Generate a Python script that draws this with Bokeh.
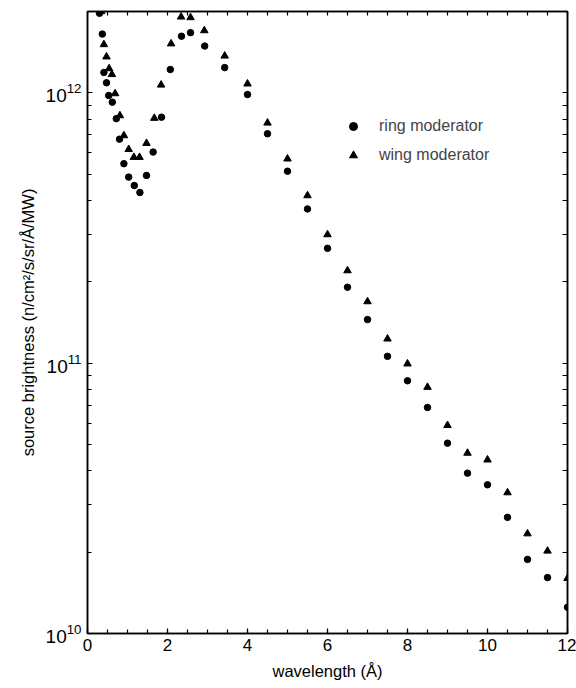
from bokeh.plotting import figure
from bokeh.models import (LogAxis, LinearAxis, FixedTicker, Range1d, Legend,
                          LegendItem, LogTickFormatter)
from bokeh.embed import file_html
from bokeh.resources import INLINE

# ---- data ----
ring_wavelength = [0.30, 0.37, 0.41, 0.475, 0.53, 0.62, 0.72, 0.80, 0.91, 1.03,
                   1.17, 1.31, 1.475, 1.64, 1.85, 2.07, 2.35, 2.575, 2.93, 3.43,
                   4.0, 4.5, 5.0, 5.5, 6.0, 6.5, 7.0, 7.5, 8.0, 8.5,
                   9.0, 9.5, 10.0, 10.5, 11.0, 11.5, 12.0]
ring_brightness = [1.97e12, 1.65e12, 1.19e12, 1.09e12, 9.78e11, 9.24e11, 8.03e11, 6.74e11, 5.47e11, 4.88e11,
                   4.54e11, 4.28e11, 4.95e11, 6.04e11, 8.13e11, 1.22e12, 1.62e12, 1.67e12, 1.49e12, 1.24e12,
                   9.86e11, 7.06e11, 5.13e11, 3.72e11, 2.66e11, 1.91e11, 1.45e11, 1.06e11, 8.61e10, 6.86e10,
                   5.06e10, 3.92e10, 3.55e10, 2.69e10, 1.88e10, 1.61e10, 1.25e10]

wing_wavelength = [0.34, 0.41, 0.475, 0.54, 0.61, 0.69, 0.81, 0.91, 1.03, 1.16,
                   1.30, 1.475, 1.67, 1.84, 2.09, 2.34, 2.575, 2.92, 3.43,
                   4.0, 4.5, 5.0, 5.5, 6.0, 6.5, 7.0, 7.5, 8.0, 8.5,
                   9.0, 9.5, 10.0, 10.5, 11.0, 11.5, 12.0]
wing_brightness = [2.0e12, 1.51e12, 1.36e12, 1.23e12, 1.17e12, 9.94e11, 8.24e11, 6.95e11, 6.18e11, 5.78e11,
                   5.78e11, 6.51e11, 8.06e11, 1.07e12, 1.52e12, 1.91e12, 1.90e12, 1.70e12, 1.37e12,
                   1.08e12, 7.74e11, 5.70e11, 4.17e11, 2.99e11, 2.20e11, 1.69e11, 1.23e11, 9.95e10, 8.15e10,
                   5.89e10, 4.65e10, 4.39e10, 3.32e10, 2.34e10, 2.02e10, 1.60e10]

x_ticks = [0, 2, 4, 6, 8, 10, 12]
x_minor = [0.5 * i for i in range(25)]
y_ticks = [1e10, 1e11, 1e12]
y_minor = [m * d for d in (1e10, 1e11, 1e12) for m in range(1, 10) if m * d <= 2e12]

FONT = "Liberation Sans"

p = figure(width=576, height=688, x_range=Range1d(0, 12), y_range=Range1d(1e10, 2e12),
           y_axis_type="log", output_backend="svg", toolbar_location=None,
           min_border_left=87, min_border_right=9, min_border_top=11, min_border_bottom=55,
           background_fill_color="white", border_fill_color="white")
p.grid.visible = False
p.outline_line_color = "black"
p.outline_line_width = 1.5

r_ring = p.scatter(ring_wavelength, ring_brightness, marker="circle", size=6.5,
                   fill_color="black", line_color="black")
r_wing = p.scatter(wing_wavelength, wing_brightness, marker="triangle", size=7.5,
                   fill_color="black", line_color="black")

xa = p.xaxis[0]
xa.ticker = FixedTicker(ticks=x_ticks, minor_ticks=x_minor)
xa.axis_label = "wavelength (Å)"
ya = p.yaxis[0]
ya.ticker = FixedTicker(ticks=y_ticks, minor_ticks=y_minor)
ya.formatter = LogTickFormatter()
ya.axis_label = "source brightness (n/cm²/s/sr/Å/MW)"

for ax in (xa, ya):
    ax.major_tick_out = 0
    ax.major_tick_in = 5
    ax.minor_tick_out = 0
    ax.minor_tick_in = 4
    ax.axis_line_width = 1.5
    ax.major_tick_line_width = 1.2
    ax.minor_tick_line_width = 1.2
    ax.major_label_text_font = FONT
    ax.major_label_text_font_size = "17px"
    ax.major_label_text_color = "black"
    ax.axis_label_text_font = FONT
    ax.axis_label_text_font_size = "16.5px"
    ax.axis_label_text_font_style = "normal"
    ax.axis_label_text_color = "black"
ya.major_label_text_font_size = "19px"
xa.major_label_standoff = 5
xa.axis_label_standoff = 8
ya.major_label_standoff = 6
ya.axis_label_standoff = 6

right = LogAxis(ticker=FixedTicker(ticks=[], minor_ticks=y_minor), axis_line_width=1.5,
                minor_tick_in=5, minor_tick_out=0, major_tick_in=0, major_tick_out=0,
                minor_tick_line_width=1.2)
p.add_layout(right, "right")
top = LinearAxis(ticker=FixedTicker(ticks=[], minor_ticks=x_minor), axis_line_width=1.5,
                 minor_tick_in=4, minor_tick_out=0, major_tick_in=0, major_tick_out=0,
                 minor_tick_line_width=1.2)
p.add_layout(top, "above")

legend = Legend(items=[LegendItem(label="ring moderator", renderers=[r_ring]),
                       LegendItem(label="wing moderator", renderers=[r_wing])],
                location=(246, 458), border_line_alpha=0, background_fill_alpha=0,
                label_text_font=FONT, label_text_font_size="16px",
                glyph_width=20, glyph_height=20, label_standoff=16, spacing=9,
                padding=10, margin=0)
p.add_layout(legend)

open("out.html", "w").write(file_html(p, INLINE))
